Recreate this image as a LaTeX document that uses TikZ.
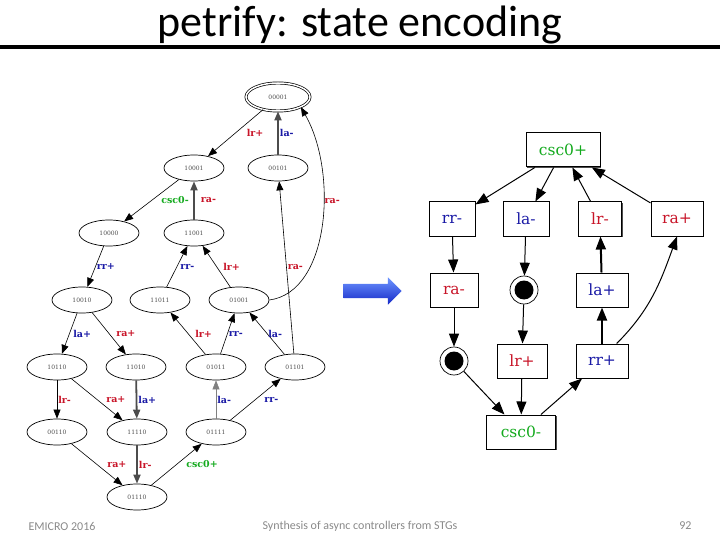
\documentclass[tikz,border=0pt]{standalone}
\usepackage{xcolor}
\usepackage{fontspec}
\usepackage{tikz}
\usetikzlibrary{arrows.meta,shapes.geometric,shapes.arrows,shadows}

\setmainfont{Carlito}
\newfontfamily\graphfont{DejaVu Serif}

\definecolor{sigred}{RGB}{200,20,40}
\definecolor{sigblue}{RGB}{25,25,165}
\definecolor{siggreen}{RGB}{20,170,30}
\definecolor{footgray}{RGB}{137,137,137}
\definecolor{arrowtop}{RGB}{110,150,255}
\definecolor{arrowbottom}{RGB}{20,40,200}

\tikzset{
    state/.style={ellipse, draw, line width=0.7pt, minimum width=60pt, minimum height=26pt, inner sep=0pt,
        font=\graphfont\fontsize{6}{7}\selectfont, text=black!70},
    initstate/.style={state, double, double distance=1.5pt, minimum width=64pt, minimum height=28pt},
    arc/.style={-{Triangle[length=9pt,width=7pt]}, line width=0.6pt},
    heavyarc/.style={arc, line width=1.8pt, draw=black!70},
    grayarc/.style={arc, draw=black!50},
    lbl/.style={right, inner sep=1pt, font=\graphfont\bfseries\fontsize{9.5}{11}\selectfont},
    redlbl/.style={lbl, text=sigred},
    bluelbl/.style={lbl, text=sigblue},
    greenlbl/.style={lbl, text=siggreen},
    trans/.style={rectangle, draw, line width=1pt, minimum height=34pt, minimum width=46pt, fill=white,
        drop shadow={shadow xshift=1.3pt, shadow yshift=-1.3pt, fill=black!70, opacity=1},
        font=\graphfont\fontsize{15.5}{17}\selectfont},
    place/.style={circle, draw, line width=0.7pt, minimum size=28pt, inner sep=0pt},
    token/.style={circle, fill, minimum size=19pt, inner sep=0pt},
    netarc/.style={-{Triangle[length=13pt,width=10pt]}, line width=1pt},
    footer/.style={font=\fontsize{12}{14}\selectfont, text=footgray},
}

\begin{document}
\begin{tikzpicture}[x=1pt, y=-1pt]
        \useasboundingbox (0,0) rectangle (720,540);

        \node[anchor=base, font=\fontsize{44}{50}\selectfont] (title) at (360,37) {petrify: state encoding};
        \draw[line width=4pt] (0,47) -- (720,47);

        \node[initstate] (s00001) at (278,97) {00001};
        \node[state] (s10001) at (194,168) {10001};
        \node[state] (s00101) at (278,168) {00101};
        \node[state] (s10000) at (109,233) {10000};
        \node[state] (s11001) at (194,233) {11001};
        \node[state] (s10010) at (82,300) {10010};
        \node[state] (s11011) at (160,300) {11011};
        \node[state] (s01001) at (239,300) {01001};
        \node[state] (s10110) at (57,367) {10110};
        \node[state] (s11010) at (136,367) {11010};
        \node[state] (s01011) at (216,367) {01011};
        \node[state] (s01101) at (295,367) {01101};
        \node[state] (s00110) at (57,432) {00110};
        \node[state] (s11110) at (137,432) {11110};
        \node[state] (s01111) at (216,432) {01111};
        \node[state] (s01110) at (137,497) {01110};

        \draw[arc] (s00001) -- node[redlbl, xshift=10pt] {lr+} (s10001);
        \draw[heavyarc] (s00101) -- node[bluelbl] {la-} (s00001);
        \draw[arc] (s01001.east) .. controls (330,292) and (338,172) .. node[redlbl, pos=0.6] {ra-} (s00001.south east);

        \draw[arc] (s10001) -- node[greenlbl, xshift=8.5pt] {csc0-} (s10000);
        \draw[heavyarc] (s11001) -- node[redlbl, xshift=5pt] {ra-} (s10001);
        \draw[arc] (s01101) -- node[redlbl] {ra-} (s00101);

        \draw[arc] (s10000) -- node[bluelbl] {rr+} (s10010);
        \draw[arc] (s11011) -- node[bluelbl, xshift=2pt] {rr-} (s11001);
        \draw[arc] (s01001) -- node[redlbl, xshift=5.5pt] {lr+} (s11001);

        \draw[arc] (s10010) -- node[bluelbl, xshift=2.5pt] {la+} (s10110);
        \draw[arc] (s10010) -- node[redlbl, xshift=6pt] {ra+} (s11010);
        \draw[arc] (s01011) -- node[redlbl, xshift=6pt] {lr+} (s11011);
        \draw[arc] (s01011) -- node[bluelbl] {rr-} (s01001);
        \draw[arc] (s01101) -- node[bluelbl] {la-} (s01001);

        \draw[arc] (s10110) -- node[redlbl] {lr-} (s00110);
        \draw[arc] (s10110) -- node[redlbl, xshift=8pt] {ra+} (s11110);
        \draw[heavyarc] (s11010) -- node[bluelbl] {la+} (s11110);
        \draw[grayarc] (s01111) -- node[bluelbl] {la-} (s01011);
        \draw[arc] (s01111) -- node[bluelbl, xshift=7.5pt] {rr-} (s01101);

        \draw[arc] (s00110) -- node[redlbl, xshift=9pt] {ra+} (s01110);
        \draw[heavyarc] (s11110) -- node[redlbl] {lr-} (s01110);
        \draw[arc] (s01110) -- node[greenlbl, xshift=8.5pt] {csc0+} (s01111);

        \node[single arrow, draw=none, top color=arrowtop, bottom color=arrowbottom, inner sep=7pt,
            minimum height=58pt, single arrow head extend=6.5pt] (flow) at (369,291) {};

        \node[trans, text=siggreen, minimum width=74pt] (csc0plus) at (563,150) {csc0+};
        \node[trans, text=sigblue] (rrminus) at (452,219) {rr-};
        \node[trans, text=sigblue] (laminus) at (526,219) {la-};
        \node[trans, text=sigred, minimum width=43pt] (lrminus) at (600,219) {lr-};
        \node[trans, text=sigred, minimum width=52pt] (raplus) at (677,219) {ra+};
        \node[trans, text=sigred, minimum width=48pt] (raminus) at (454,290) {ra-};
        \node[place] (p1) at (524,290) {};
        \node[token] (t1) at (p1) {};
        \node[trans, text=sigblue, minimum width=52pt] (laplus) at (602,290) {la+};
        \node[place] (p2) at (454,361) {};
        \node[token] (t2) at (p2) {};
        \node[trans, text=sigred, minimum width=50pt] (lrplus) at (522,361) {lr+};
        \node[trans, text=sigblue, minimum width=52pt] (rrplus) at (602,361) {rr+};
        \node[trans, text=siggreen, minimum width=69pt] (csc0minus) at (521,432) {csc0-};

        \draw[netarc] (csc0plus) -- (rrminus);
        \draw[netarc] (csc0plus) -- (laminus);
        \draw[netarc] (lrminus) -- (csc0plus);
        \draw[netarc] (raplus) -- (csc0plus);

        \draw[netarc] (rrminus) -- (raminus);
        \draw[netarc] (laminus) -- (p1);
        \draw[netarc, line width=2pt] (laplus) -- (lrminus);
        \draw[netarc] (rrplus.50) to[out=45, in=-110] (raplus.south);

        \draw[netarc] (raminus) -- (p2);
        \draw[netarc] (p1) -- (lrplus);
        \draw[netarc, line width=2pt] (rrplus) -- (laplus);

        \draw[netarc] (p2) -- (csc0minus);
        \draw[netarc] (lrplus) -- (csc0minus);
        \draw[netarc] (csc0minus) -- (rrplus);

        \node[footer, anchor=west] (venue) at (25,526) {EMICRO 2016};
        \node[footer] (subject) at (360,526) {Synthesis of async controllers from STGs};
        \node[footer, anchor=east] (page) at (695,526) {92};
\end{tikzpicture}
\end{document}
